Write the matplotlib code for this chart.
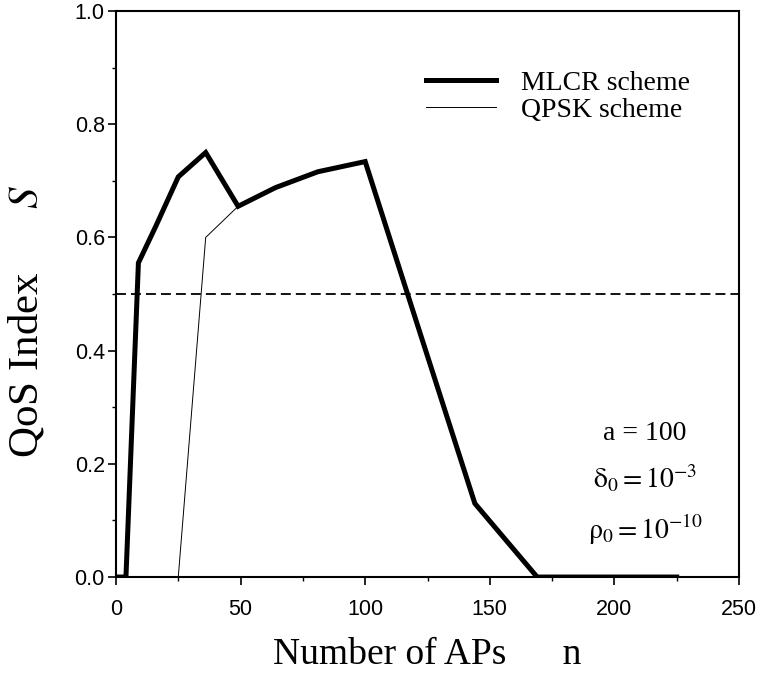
import numpy as np
import matplotlib
matplotlib.use("Agg")
import matplotlib.pyplot as plt
from matplotlib.ticker import MultipleLocator

# number of APs (square grid sizes) and QoS index S
n_aps = [1, 4, 9, 16, 25, 36, 49, 64, 81, 100, 121, 144, 169, 196, 225]
mlcr_s = [0.0, 0.0, 0.555, 0.62, 0.707, 0.750, 0.655, 0.688, 0.716,
          0.734, 0.445, 0.130, 0.0, 0.0, 0.0]
qpsk_s = [0.0, 0.0, 0.0, 0.0, 0.0, 0.600, 0.655, 0.688, 0.716,
          0.734, 0.445, 0.130, 0.0, 0.0, 0.0]
threshold = 0.5

x_ticks = [0, 50, 100, 150, 200, 250]
y_ticks = [0.0, 0.2, 0.4, 0.6, 0.8, 1.0]

plt.rcParams['font.family'] = ['Liberation Serif', 'DejaVu Serif']
plt.rcParams['mathtext.fontset'] = 'stix'

fig = plt.figure(figsize=(7.6, 6.76), dpi=100)
ax = fig.add_axes([0.1526, 0.1464, 0.8198, 0.8373])

ax.plot(n_aps, qpsk_s, color='black', lw=0.7, label='QPSK scheme', zorder=3)
ax.plot(n_aps, mlcr_s, color='black', lw=3.6, solid_joinstyle='miter',
        label='MLCR scheme', zorder=4)
ax.axhline(threshold, color='black', lw=1.3, dashes=(5.5, 2.8), zorder=2)

ax.set_xlim(0, 250)
ax.set_ylim(0, 1.0)
ax.set_xticks(x_ticks)
ax.set_yticks(y_ticks)
ax.set_xticklabels([str(v) for v in x_ticks])
ax.set_yticklabels(['%.1f' % v for v in y_ticks])
ax.xaxis.set_minor_locator(MultipleLocator(25))
ax.yaxis.set_minor_locator(MultipleLocator(0.1))

for lab in ax.get_xticklabels() + ax.get_yticklabels():
    lab.set_family(['Liberation Sans', 'DejaVu Sans'])
    lab.set_fontsize(15.5)
ax.tick_params(axis='both', which='major', direction='out', length=6,
               width=1.2, color='black')
ax.tick_params(axis='both', which='minor', direction='out', length=3,
               width=1.0)
ax.tick_params(axis='x', which='major', pad=10)
ax.tick_params(axis='y', which='major', pad=2)
for sp in ax.spines.values():
    sp.set_linewidth(1.5)

ax.set_xlabel('Number of APs      n', fontsize=27)
ax.xaxis.set_label_coords(0.499, -0.107)
ax.set_ylabel('QoS Index      $S$', fontsize=31)
ax.yaxis.set_label_coords(-0.112, 0.452)

handles, labels = ax.get_legend_handles_labels()
ax.legend(handles[::-1], labels[::-1], loc='upper left',
          bbox_to_anchor=(0.498, 0.895), frameon=False, fontsize=20,
          handlelength=2.5, handletextpad=0.9, labelspacing=0.05,
          borderpad=0.0, borderaxespad=0.0)

ax.text(0.849, 0.254, 'a = 100', transform=ax.transAxes, fontsize=20,
        ha='center', va='center')
ax.text(0.849, 0.175, r'$\mathrm{\delta_0 = 10^{-3}}$', transform=ax.transAxes,
        fontsize=20, ha='center', va='center')
ax.text(0.849, 0.083, r'$\mathrm{\rho_0 = 10^{-10}}$', transform=ax.transAxes,
        fontsize=20, ha='center', va='center')

fig.savefig('out.png', dpi=100)
